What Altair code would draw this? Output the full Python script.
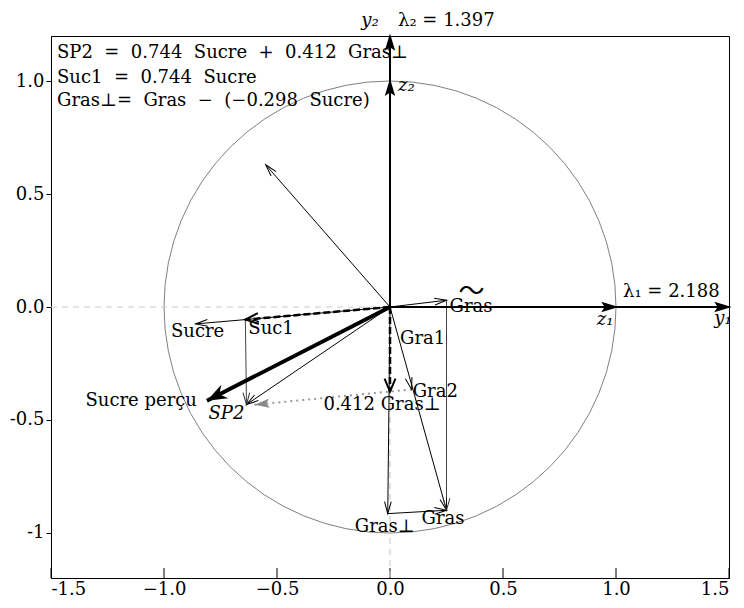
import math
import altair as alt
import pandas as pd

# ---------------- data ----------------
vec_names = ["O", "y1", "z1", "y2", "z2", "other", "Sucre", "Suc1", "SP2", "percu",
             "dotend", "GrasT", "Gras", "Gra2", "Perp412", "GrasPerp", "Lft", "Bot"]
vec_x = [0.0, 1.5, 1.0, 0.0, 0.0, -0.55, -0.86, -0.64, -0.635, -0.81,
         -0.60, 0.25, 0.25, 0.096, 0.0, -0.01, -1.5, 0.0]
vec_y = [0.0, 0.0, 0.0, 1.2, 1.0, 0.63, -0.075, -0.056, -0.432, -0.415,
         -0.433, 0.03, -0.90, -0.365, -0.375, -0.915, 0.0, -1.2]

seg_from = ["O", "O", "Lft", "O", "O", "O", "O", "Suc1", "O", "O", "Gra2", "O", "GrasT", "O", "O", "O", "GrasPerp"]
seg_to = ["y1", "y2", "O", "Bot", "other", "Sucre", "Suc1", "SP2", "SP2", "percu", "dotend", "GrasT", "Gras", "Gras", "Perp412", "GrasPerp", "Gras"]
seg_style = ["axis", "axis", "guide", "guide", "thin", "thin", "dash", "mid", "thin", "thick", "dot", "thin", "mid", "thin", "dash", "thin", "thin"]

head_tip = ["y1", "z1", "y2", "z2", "other", "Sucre", "Suc1", "SP2", "SP2", "percu", "dotend", "GrasT", "Gras", "Gras", "Gra2", "Perp412", "GrasPerp", "Gras"]
head_from = ["O", "O", "O", "O", "O", "O", "O", "Suc1", "O", "O", "Gra2", "O", "GrasT", "O", "O", "O", "O", "GrasPerp"]
head_style = ["axis", "axis", "axis", "axis", "thin", "thin", "dash", "mid", "thin", "thick", "gray", "thin", "mid", "thin", "thin", "dash", "thin", "thin"]

label_text = ["Sucre", "Suc1", "Sucre perçu", "SP2", "0.412 Gras⊥", "Gra1", "Gra2", "Gras", "〜",
              "Gras⊥", "Gras", "z₁", "y₁", "λ₁ = 2.188", "z₂", "y₂", "λ₂ = 1.397"]
label_anchor = ["Sucre", "Suc1", "percu", "SP2", "Perp412", "O", "Gra2", "GrasT", "GrasT",
                "GrasPerp", "Gras", "z1", "y1", "z1", "z2", "y2", "y2"]

G = "\u00a0 "  # wider gap, like the math spacing of the original
box_lines = ["SP2" + G + "=" + G + "0.744" + G + "Sucre" + G + "+" + G + "0.412" + G + "Gras⊥",
             "Suc1" + G + "=" + G + "0.744" + G + "Sucre",
             "Gras⊥=" + G + "Gras" + G + "−" + G + "(−0.298" + G + "Sucre)"]

x_ticks = [-1.5, -1.0, -0.5, 0.0, 0.5, 1.0, 1.5]
y_ticks = [-1.0, -0.5, 0.0, 0.5, 1.0]

# ---------------- styling (separate from data) ----------------
W, H = 678, 542
PX = W / 3.0
PY = H / 2.4
FONT = "DejaVu Serif"
FS = 18

label_dx = [2, 3, -10, -20, -8, 10, 1, 3, 25, -3, -25, -11, -6, 7, 8, -20, 8]
label_dy = [8, 9, 0, 9, 13, 32, 3, 7, -8, 13, 9, 13, 12, -15, 5, -15, -15]
label_align = ["center", "left", "right", "center", "center", "left", "left", "left", "center",
               "center", "left", "center", "center", "left", "left", "center", "left"]
label_italic = [False, False, False, True, False, False, False, False, False,
                False, False, True, True, False, True, True, False]

seg_props = {
    "axis": dict(color="black", strokeWidth=2),
    "guide": dict(color="#cccccc", strokeWidth=1.2, strokeDash=[6, 5]),
    "thin": dict(color="black", strokeWidth=1),
    "mid": dict(color="#444444", strokeWidth=1),
    "dash": dict(color="black", strokeWidth=2.5, strokeDash=[7, 3]),
    "thick": dict(color="black", strokeWidth=4),
    "dot": dict(color="#999999", strokeWidth=2, strokeDash=[2, 4]),
}
OPEN_V = "M -0.28 1 L 0 0 L 0.28 1"
WIDE_V = "M -0.42 1 L 0 0 L 0.42 1"
FILLED = "M 0 0 L -0.38 1 L 0 0.7 L 0.38 1 Z"
NARROW_F = "M 0 0 L -0.3 1 L 0 0.8 L 0.3 1 Z"
head_props = {
    "axis": dict(shape=NARROW_F, filled=True, size=676, strokeWidth=1.5, stroke="black", color="black"),
    "dash": dict(shape=WIDE_V, filled=False, size=676, strokeWidth=2, color="black"),
    "thin": dict(shape=OPEN_V, filled=False, size=576, strokeWidth=1, color="black"),
    "mid": dict(shape=OPEN_V, filled=False, size=576, strokeWidth=1, color="#333333"),
    "thick": dict(shape=FILLED, filled=True, size=1600, strokeWidth=0, color="black"),
    "gray": dict(shape=NARROW_F, filled=True, size=900, strokeWidth=0, color="#888888"),
}

pos = {n: (x, y) for n, x, y in zip(vec_names, vec_x, vec_y)}

xs = alt.Scale(domain=[-1.5, 1.5], nice=False, zero=False)
ys = alt.Scale(domain=[-1.2, 1.2], nice=False, zero=False)

x_label_expr = ("datum.value < -1.4 ? '-1.5' : datum.value < -0.9 ? '\u22121.0' : "
                "datum.value < -0.4 ? '\u22120.5' : datum.value < 0.1 ? '0.0' : "
                "datum.value < 0.6 ? '0.5' : datum.value < 1.1 ? '1.0' : '1.5'")
y_label_expr = ("datum.value < -0.9 ? '-1' : datum.value < -0.4 ? '-0.5' : "
                "datum.value < 0.1 ? '0.0' : datum.value < 0.6 ? '0.5' : '1.0'")

XAXIS = alt.Axis(values=x_ticks, labelExpr=x_label_expr, title=None, grid=False,
                 tickSize=0, labelPadding=2)
YAXIS = alt.Axis(values=y_ticks, labelExpr=y_label_expr, title=None, grid=False,
                 tickSize=5, labelPadding=2)


def X(f="x"):
    return alt.X(f"{f}:Q", scale=xs, axis=XAXIS)


def Y(f="y"):
    return alt.Y(f"{f}:Q", scale=ys, axis=YAXIS)


layers = []

# unit circle
circ = pd.DataFrame({"x": [0.0], "y": [0.0]})
layers.append(
    alt.Chart(circ).mark_point(shape="circle", filled=False, size=(2 * PX) ** 2,
                               color="#808080", strokeWidth=1, opacity=1).encode(x=X(), y=Y())
)

# x ticks drawn inward
tick_df = pd.DataFrame({"x": x_ticks})
layers.append(alt.Chart(tick_df).mark_rule(color="black", strokeWidth=1).encode(
    x=X(), y=alt.value(H - 10), y2=alt.value(H)))

# segments
seg_df = pd.DataFrame({
    "x": [pos[a][0] for a in seg_from], "y": [pos[a][1] for a in seg_from],
    "x2": [pos[b][0] for b in seg_to], "y2": [pos[b][1] for b in seg_to],
    "style": seg_style,
})
for st in ["guide", "thin", "mid", "dot", "dash", "axis", "thick"]:
    d = seg_df[seg_df["style"] == st]
    if len(d) == 0:
        continue
    layers.append(alt.Chart(d).mark_rule(**seg_props[st]).encode(
        x=X(), y=Y(), x2="x2:Q", y2="y2:Q"))

# arrow heads
rows = []
for t, f, st in zip(head_tip, head_from, head_style):
    tx, ty = pos[t]
    fx, fy = pos[f]
    ang = math.degrees(math.atan2((tx - fx) * PX, (ty - fy) * PY)) % 360
    rows.append({"x": tx, "y": ty, "ang": ang, "style": st})
head_df = pd.DataFrame(rows)
for st, pr in head_props.items():
    d = head_df[head_df["style"] == st]
    if len(d) == 0:
        continue
    layers.append(alt.Chart(d).mark_point(opacity=1, **pr).encode(
        x=X(), y=Y(), angle=alt.Angle("ang:Q", scale=None)))

# labels
for txt, anc, dx, dy, al, it in zip(label_text, label_anchor, label_dx, label_dy, label_align, label_italic):
    d = pd.DataFrame({"x": [pos[anc][0]], "y": [pos[anc][1]], "t": [txt]})
    font = "Noto Sans CJK JP" if txt == "〜" else FONT
    size = 26 if txt == "〜" else FS
    layers.append(alt.Chart(d).mark_text(
        dx=dx, dy=dy, align=al, baseline="middle", font=font, fontSize=size,
        fontStyle="italic" if it else "normal", color="black").encode(
        x=X(), y=Y(), text="t:N"))

# formula box
for i, line in enumerate(box_lines):
    d = pd.DataFrame({"t": [line]})
    layers.append(alt.Chart(d).mark_text(
        align="left", baseline="alphabetic", font=FONT, fontSize=FS, color="black").encode(
        x=alt.value(6), y=alt.value([22, 47, 70][i]), text="t:N"))

chart = alt.layer(*layers).properties(
    width=W, height=H, autosize="none",
    padding={"left": 43, "top": 28, "right": 7, "bottom": 22},
).configure_view(stroke="black", strokeWidth=1).configure_axis(
    domainColor="black", tickColor="black", labelColor="black",
    labelFont=FONT, labelFontSize=FS,
)

chart.save("out.html", embed_options={"renderer": "svg", "actions": False})
